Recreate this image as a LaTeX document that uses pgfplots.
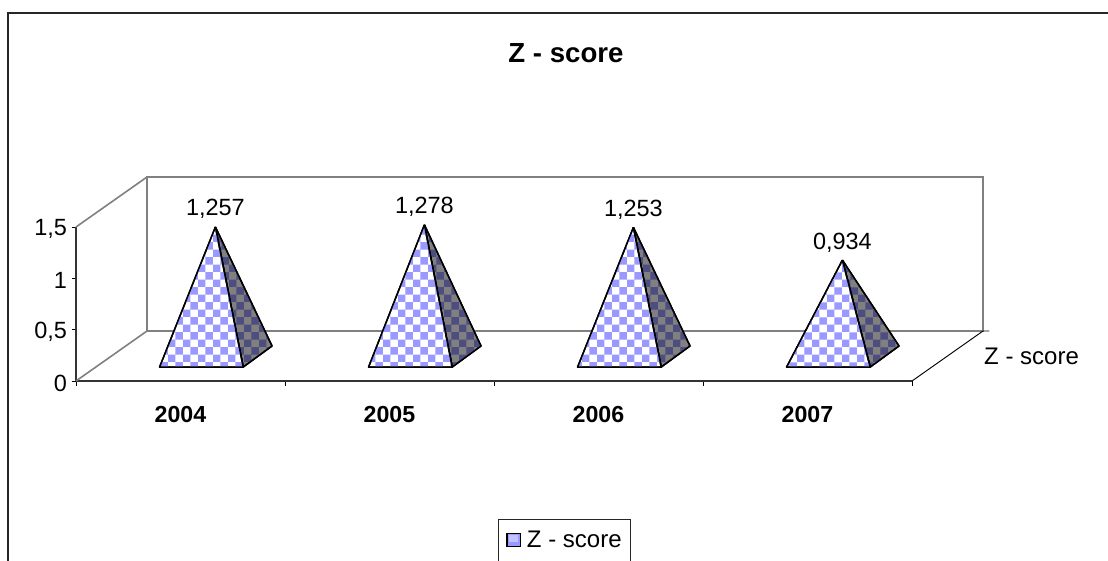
\documentclass[border=0pt]{standalone}
\usepackage{fontspec}
\setmainfont{Liberation Sans}
\usepackage{pgfplots}
\pgfplotsset{compat=1.18}
\usetikzlibrary{patterns}
\definecolor{cbblue}{HTML}{9999FF}
\definecolor{cbdark}{HTML}{4D4D80}
\definecolor{wallgray}{HTML}{808080}
\pgfdeclarepatternformonly{cb}{\pgfpointorigin}{\pgfqpoint{11.5pt}{11.5pt}}{\pgfqpoint{11.5pt}{11.5pt}}{%
  \pgfpathrectangle{\pgfpointorigin}{\pgfqpoint{5.75pt}{5.75pt}}%
  \pgfpathrectangle{\pgfqpoint{5.75pt}{5.75pt}}{\pgfqpoint{5.75pt}{5.75pt}}%
  \pgfusepath{fill}}
\tikzset{
  front/.style={draw=black,line width=1.1pt,line join=round,fill=white,postaction={pattern=cb,pattern color=cbblue}},
  side/.style={draw=black,line width=1.1pt,line join=round,fill=wallgray,postaction={pattern=cb,pattern color=cbdark}},
}
\begin{document}
\begin{tikzpicture}[x=0.75pt,y=-0.75pt]
\path[use as bounding box] (0,0) rectangle (1108,561);
\clip (0,0) rectangle (1108,561);
\draw[black!85,line width=1.5pt] (7.5,561) -- (7.5,12.5) -- (1108,12.5);
\draw[black!85,line width=0.7pt] (498,561) -- (498,519) -- (630,519) -- (630,561);
\node[font=\bfseries\fontsize{20.7}{24}\selectfont] at (566,53) {Z - score};
\begin{axis}[
  at={(57pt,-285.75pt)},anchor=south west,
  scale only axis,width=627pt,height=115.5pt,
  xmin=-0.5,xmax=3.5,ymin=0,ymax=1.5,
  clip=false,
  axis x line=bottom,axis y line=left,
  axis line style={-,black},
  x axis line style={line width=1.4pt,draw=black!80},
  y axis line style={line width=0.8pt,draw=black!80},
  tick align=outside,
  xtick={0,1,2,3},xticklabels={2004,2005,2006,2007},
  major x tick style={draw=none},
  minor xtick={-0.5,0.5,1.5,2.5,3.5},
  minor tick length=3.8pt,
  minor x tick style={black,line width=0.6pt},
  x tick label style={font=\bfseries\fontsize{17.4}{20}\selectfont,yshift=-12.5pt},
  ytick={0,0.5,1,1.5},yticklabels={0,{0,5},1,{1,5}},
  y tick label style={font=\fontsize{17.6}{20}\selectfont,yshift=-1.5pt},
  major y tick style={black,line width=0.6pt},
  major tick length=3.2pt,
  legend style={at={(axis cs:1.557,-1.549)},anchor=west,draw=none,fill=none,
    font=\fontsize{18}{20}\selectfont,inner sep=0pt,legend cell align=left},
]
% walls (depth offset x +0.3397, y +0.487 in data units)
\addplot[wallgray,line width=1.2pt,forget plot] coordinates {(-0.5,0) (-0.1603,0.487) (3.8397,0.487) (3.8397,1.987) (-0.1603,1.987) (-0.1603,0.487)};
\addplot[wallgray,line width=1.2pt,forget plot] coordinates {(-0.5,1.5) (-0.1603,1.987)};
\addplot[black,line width=0.7pt,forget plot] coordinates {(3.5,0) (3.8397,0.487) (3.87,0.487)};
% pyramids: side faces, then front faces
\addplot[side,forget plot] coordinates {(0.167,1.5005) (0.30,0.136) (0.438,0.341) (0.167,1.5005)};
\addplot[side,forget plot] coordinates {(1.167,1.5215) (1.30,0.136) (1.438,0.341) (1.167,1.5215)};
\addplot[side,forget plot] coordinates {(2.167,1.4965) (2.30,0.136) (2.438,0.341) (2.167,1.4965)};
\addplot[side,forget plot] coordinates {(3.167,1.1775) (3.30,0.136) (3.438,0.341) (3.167,1.1775)};
\addplot[front,forget plot] coordinates {(0.167,1.5005) (-0.10,0.136) (0.30,0.136) (0.167,1.5005)};
\addplot[front,forget plot] coordinates {(1.167,1.5215) (0.90,0.136) (1.30,0.136) (1.167,1.5215)};
\addplot[front,forget plot] coordinates {(2.167,1.4965) (1.90,0.136) (2.30,0.136) (2.167,1.4965)};
\addplot[front,forget plot] coordinates {(3.167,1.1775) (2.90,0.136) (3.30,0.136) (3.167,1.1775)};
% value labels at the apexes
\addplot[draw=none,forget plot,nodes near coords,point meta=explicit symbolic,
  every node near coord/.style={font=\fontsize{17.6}{20}\selectfont,anchor=south,yshift=2.5pt}]
  table[meta=lab] {
  x y lab
  0.167 1.5005 {1,257}
  1.167 1.5215 {1,278}
  2.167 1.4965 {1,253}
  3.167 1.1775 {0,934}
};
\addlegendimage{legend image code/.code={\draw[black,line width=1.1pt,fill=cbblue] (0pt,-5pt) rectangle (10pt,5pt);
     \fill[cbblue!60!white] (2pt,-1pt) rectangle (8pt,3.5pt);}}
\addlegendentry{\hspace{2.5pt}Z - score}
\end{axis}
\node[font=\fontsize{18}{20}\selectfont,anchor=west] at (979.5,356) {Z - score};
\end{tikzpicture}
\end{document}
